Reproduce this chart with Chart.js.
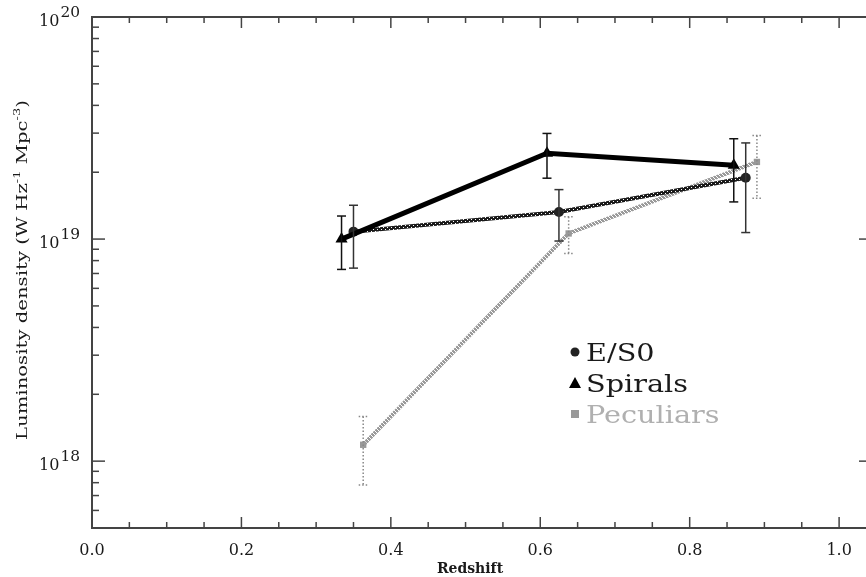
<!DOCTYPE html>
<html><head><meta charset="utf-8">
<script src="https://cdn.jsdelivr.net/npm/chart.js@4"></script>
<style>html,body{margin:0;padding:0;overflow:hidden;background:#fff}#wrap{width:866px;height:577px;position:relative}</style>
</head><body><div id="wrap"><canvas id="c" width="866" height="577" style="width:866px;height:577px"></canvas></div>
<script>
// ---- data ----
const seriesNames = ['E/S0', 'Spirals', 'Peculiars'];
const es0Redshift = [0.350, 0.625, 0.875];
const es0Lum      = [1.08e19, 1.325e19, 1.89e19];
const es0Err      = [0.34e19, 0.345e19, 0.82e19];
const spiralRedshift = [0.334, 0.609, 0.859];
const spiralLum      = [1.00e19, 2.435e19, 2.15e19];
const spiralErr      = [0.27e19, 0.555e19, 0.68e19];
const pecRedshift = [0.363, 0.638, 0.890];
const pecLum      = [1.185e18, 1.06e19, 2.225e19];
const pecErr      = [0.405e18, 0.20e19, 0.70e19];

const xMajorTicks = [0, 0.2, 0.4, 0.6, 0.8, 1.0];
const xTickLabels = ['0.0', '0.2', '0.4', '0.6', '0.8', '1.0'];
const xMinorTicks = [0.05, 0.1, 0.15, 0.25, 0.3, 0.35, 0.45, 0.5, 0.55, 0.65, 0.7, 0.75, 0.85, 0.9, 0.95];
const xFrameMax = 1.044; // right frame of the plot lies just outside the picture
const yMajorTicks = [1e18, 1e19, 1e20];
const yTickExponents = ['18', '19', '20'];
const yMinorTicks = [5e17, 6e17, 7e17, 8e17, 9e17,
  2e18, 3e18, 4e18, 5e18, 6e18, 7e18, 8e18, 9e18,
  2e19, 3e19, 4e19, 5e19, 6e19, 7e19, 8e19, 9e19];
const xTitle = 'Redshift';
const yTitleParts = [['Luminosity density (W Hz', false], ['-1', true], [' Mpc', false], ['-3', true], [')', false]];

// ---- styles ----
const canvas = document.getElementById('c');
const mainCtx = canvas.getContext('2d');
function makePattern(bg, fg, size, pts) {
  const c = document.createElement('canvas'); c.width = size; c.height = size;
  const g = c.getContext('2d'); g.fillStyle = bg; g.fillRect(0, 0, size, size);
  g.fillStyle = fg; pts.forEach(p => g.fillRect(p[0], p[1], 1, 1));
  return mainCtx.createPattern(c, 'repeat');
}
const es0Pattern = makePattern('#1a1a1a', '#ffffff', 4, [[1, 1], [3, 3]]);
const pecPattern = makePattern('#9a9a9a', '#ffffff', 4, [[0, 0], [1, 1], [2, 2], [3, 3]]);
const FONT = '"DejaVu Serif", "Liberation Serif", serif';

const toPts = (xs, ys) => xs.map((x, i) => ({ x: x, y: ys[i] }));

const errorSets = [
  { xs: spiralRedshift, ys: spiralLum, es: spiralErr, color: '#111', dash: [] },
  { xs: es0Redshift, ys: es0Lum, es: es0Err, color: '#333', dash: [] },
  { xs: pecRedshift, ys: pecLum, es: pecErr, color: '#888', dash: [1.5, 2] }
];

function line(ctx, x1, y1, x2, y2) { ctx.beginPath(); ctx.moveTo(x1, y1); ctx.lineTo(x2, y2); ctx.stroke(); }

function drawStretched(ctx, text, x, y, sx, align) {
  ctx.save();
  const w = ctx.measureText(text).width * sx;
  let x0 = x;
  if (align === 'center') x0 = x - w / 2; else if (align === 'right') x0 = x - w;
  ctx.translate(x0, y); ctx.scale(sx, 1);
  ctx.textAlign = 'left';
  ctx.fillText(text, 0, 0);
  ctx.restore();
  return w;
}

const decor = {
  id: 'decor',
  afterDatasetsDraw(chart) {
    const ctx = chart.ctx, xs = chart.scales.x, ys = chart.scales.y;
    ctx.save();
    errorSets.forEach(s => {
      ctx.strokeStyle = s.color; ctx.lineWidth = 1.5; ctx.setLineDash(s.dash);
      s.xs.forEach((xv, i) => {
        const px = xs.getPixelForValue(xv);
        const pt = ys.getPixelForValue(s.ys[i] + s.es[i]);
        const pb = ys.getPixelForValue(s.ys[i] - s.es[i]);
        line(ctx, px, pt, px, pb);
        line(ctx, px - 4.5, pt, px + 4.5, pt);
        line(ctx, px - 4.5, pb, px + 4.5, pb);
      });
    });
    ctx.restore();
  },
  afterDraw(chart) {
    const ctx = chart.ctx, xs = chart.scales.x, ys = chart.scales.y;
    const { left, top, bottom } = chart.chartArea;
    const right = xs.getPixelForValue(xFrameMax);
    ctx.save();
    ctx.strokeStyle = '#444'; ctx.lineWidth = 2; ctx.setLineDash([]);
    ctx.strokeRect(left, top, right - left, bottom - top);
    ctx.lineWidth = 1.5;
    xMinorTicks.forEach(v => { const p = xs.getPixelForValue(v); line(ctx, p, bottom, p, bottom - 6); line(ctx, p, top, p, top + 6); });
    xMajorTicks.forEach(v => { const p = xs.getPixelForValue(v); line(ctx, p, bottom, p, bottom - 11); line(ctx, p, top, p, top + 11); });
    yMinorTicks.forEach(v => { const p = ys.getPixelForValue(v); line(ctx, left, p, left + 7, p); line(ctx, right, p, right - 5, p); });
    yMajorTicks.forEach(v => { const p = ys.getPixelForValue(v); line(ctx, left, p, left + 13, p); line(ctx, right, p, right - 13, p); });

    ctx.fillStyle = '#1a1a1a';
    // x tick labels
    ctx.font = '16px ' + FONT; ctx.textBaseline = 'alphabetic';
    xMajorTicks.forEach((v, i) => drawStretched(ctx, xTickLabels[i], xs.getPixelForValue(v), 555, 1.0, 'center'));
    // y tick labels: 10^n
    yMajorTicks.forEach((v, i) => {
      const p = ys.getPixelForValue(v);
      ctx.font = '14px ' + FONT;
      const we = drawStretched(ctx, yTickExponents[i], 80, p, 1.1, 'right');
      ctx.font = '16px ' + FONT;
      drawStretched(ctx, '10', 80 - we - 1, p + 9, 1.0, 'right');
    });
    // x title
    ctx.font = 'bold 14px ' + FONT;
    drawStretched(ctx, xTitle, 470, 573, 1.0, 'center');
    // y title (rotated)
    ctx.save();
    ctx.translate(27, 270); ctx.rotate(-Math.PI / 2);
    const sizes = yTitleParts.map(p => p[1] ? 10 : 15);
    let total = 0;
    yTitleParts.forEach((p, i) => { ctx.font = sizes[i] + 'px ' + FONT; total += ctx.measureText(p[0]).width; });
    const sx = 340 / total;
    let cx = -total * sx / 2;
    yTitleParts.forEach((p, i) => {
      ctx.font = sizes[i] + 'px ' + FONT;
      cx += drawStretched(ctx, p[0], cx, p[1] ? -7 : 0, sx, 'left');
    });
    ctx.restore();

    // legend
    const legendStyles = [
      { marker: 'circle', color: '#222', text: '#1a1a1a' },
      { marker: 'triangle', color: '#000', text: '#1a1a1a' },
      { marker: 'rect', color: '#999', text: '#b0b0b0' }
    ];
    ctx.font = '25px ' + FONT;
    const lsx = 102 / ctx.measureText('Spirals').width;
    seriesNames.forEach((name, i) => {
      const cy = 352 + i * 31;
      const st = legendStyles[i];
      ctx.fillStyle = st.color;
      ctx.beginPath();
      if (st.marker === 'circle') { ctx.arc(575, cy, 4.5, 0, Math.PI * 2); }
      else if (st.marker === 'triangle') { ctx.moveTo(575, cy - 6); ctx.lineTo(581, cy + 5); ctx.lineTo(569, cy + 5); ctx.closePath(); }
      else { ctx.rect(571, cy - 4, 8, 8); }
      ctx.fill();
      ctx.fillStyle = st.text;
      drawStretched(ctx, name, 586, cy + 9, lsx, 'left');
    });
    ctx.restore();
  }
};

new Chart(canvas, {
  type: 'line',
  data: {
    datasets: [
      { label: seriesNames[1], data: toPts(spiralRedshift, spiralLum), borderColor: '#000', backgroundColor: '#000',
        borderWidth: 5, pointStyle: 'triangle', pointRadius: 7, pointBorderWidth: 0, tension: 0 },
      { label: seriesNames[0], data: toPts(es0Redshift, es0Lum), borderColor: es0Pattern, backgroundColor: '#222',
        borderWidth: 4, pointStyle: 'circle', pointRadius: 5, pointBorderWidth: 0, tension: 0 },
      { label: seriesNames[2], data: toPts(pecRedshift, pecLum), borderColor: pecPattern, backgroundColor: '#999',
        borderWidth: 4, pointStyle: 'rect', pointRadius: 4.5, pointBorderWidth: 0, tension: 0 }
    ]
  },
  options: {
    responsive: false, maintainAspectRatio: false, animation: false, devicePixelRatio: 1,
    layout: { autoPadding: false, padding: { left: 92, top: 17, right: 0, bottom: 49 } },
    plugins: { legend: { display: false }, tooltip: { enabled: false } },
    scales: {
      x: { type: 'linear', min: 0, max: 1.036,
        ticks: { display: false }, grid: { display: false, drawTicks: false, tickLength: 0 }, border: { display: false } },
      y: { type: 'logarithmic', min: 5e17, max: 1e20,
        ticks: { display: false }, grid: { display: false, drawTicks: false, tickLength: 0 }, border: { display: false } }
    }
  },
  plugins: [decor]
});
</script>
</body></html>
